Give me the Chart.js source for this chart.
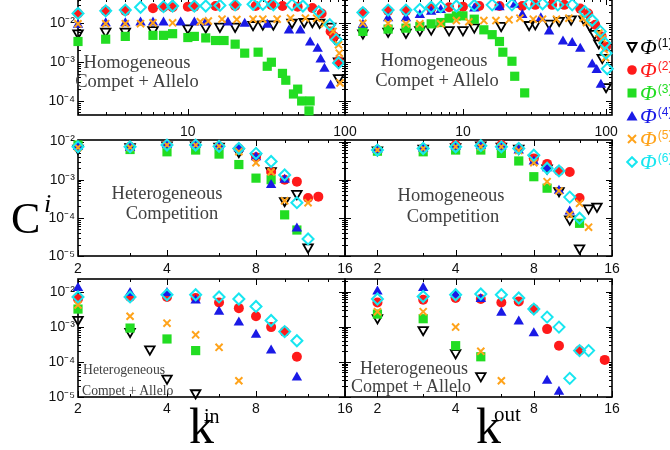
<!DOCTYPE html>
<html>
<head>
<meta charset="utf-8">
<script src="https://cdn.jsdelivr.net/npm/chart.js@4.4.0/dist/chart.umd.min.js"></script>
<style>
  body { margin: 0; width: 670px; height: 450px; background: #fff; position: relative; overflow: hidden; }
  canvas { position: absolute; }
  .note { position: absolute; transform: translate(-50%, -50%); white-space: nowrap; line-height: 1;
          font-family: "Liberation Serif", "DejaVu Serif", serif; color: #404040; font-size: 18.5px; }
  .note.small { transform: translate(0, -50%); font-size: 13.7px; }
  .title { position: absolute; line-height: 1; font-family: "Liberation Serif", serif; color: #000; white-space: nowrap; }
  .leg { position: absolute; left: 626px; height: 20px; display: flex; align-items: center; white-space: nowrap;
         font-family: "Liberation Serif", serif; }
  .leg i { font-size: 22px; margin-left: 2px; }
  .leg sup { font-family: "Liberation Sans", sans-serif; font-size: 12px; position: relative; top: -4px; margin-left: 1px; }
</style>
</head>
<body>
<canvas id="homAlleloInCv" width="343" height="146" style="left:18px;top:-9px"></canvas>
<canvas id="homAlleloOutCv" width="293" height="146" style="left:335px;top:-9px"></canvas>
<canvas id="hetCompInCv" width="343" height="146" style="left:18px;top:132px"></canvas>
<canvas id="homCompOutCv" width="293" height="146" style="left:335px;top:132px"></canvas>
<canvas id="hetAlleloInCv" width="343" height="148" style="left:18px;top:271px"></canvas>
<canvas id="hetAlleloOutCv" width="293" height="148" style="left:335px;top:271px"></canvas>

<div class="note" style="left:137px;top:62px">Homogeneous</div>
<div class="note" style="left:137px;top:81px">Compet + Allelo</div>
<div class="note" style="left:434px;top:60px">Homogeneous</div>
<div class="note" style="left:437px;top:80px">Compet + Allelo</div>
<div class="note" style="left:167px;top:193px">Heterogeneous</div>
<div class="note" style="left:172px;top:213px">Competition</div>
<div class="note" style="left:451px;top:195px">Homogeneous</div>
<div class="note" style="left:453px;top:216px">Competition</div>
<div class="note small" style="left:83px;top:370px">Heterogeneous</div>
<div class="note small" style="left:82px;top:391px">Compet + Allelo</div>
<div class="note" style="left:414px;top:368px;font-size:18px">Heterogeneous</div>
<div class="note" style="left:411px;top:386px;font-size:18px">Compet + Allelo</div>

<div class="title" style="left:11px;top:197px;font-size:44px">C</div>
<div class="title" style="left:44px;top:191px;font-size:26px;font-style:italic">i</div>
<div class="title" style="left:189px;top:401px;font-size:50px">k</div>
<div class="title" style="left:204px;top:406px;font-size:20px">in</div>
<div class="title" style="left:476px;top:401px;font-size:50px">k</div>
<div class="title" style="left:494px;top:404px;font-size:21px">out</div>

<div id="legend"></div>

<script>
// C_i versus k, one list of [k, C] pairs per family Φ(1)..Φ(6)
const homAlleloIn = [
  [[2,5.6e-3],[3,6.2e-3],[4,6.2e-3],[6,6.8e-3],[10,7.5e-3],[13,8.0e-3],[16,8.3e-3],[20,8.3e-3],[26,9.2e-3],[30,9.5e-3],[35,9.5e-3],[46,1.05e-2],[55,1.1e-2],[62,1.1e-2],[69,1.05e-2],[81,8.3e-3],[86,4.2e-3],[91,1.05e-3],[91,3.9e-4]],
  [[2,0.018],[3,0.021],[4,0.021],[6,0.0245],[7,0.026],[8,0.026],[10,0.027],[11,0.027],[15,0.028],[20,0.028],[27,0.028],[34,0.030],[40,0.028],[50,0.027],[62,0.025],[71,0.018],[81,6.2e-3],[85,4.6e-3],[91,1.05e-3]],
  [[2,3.4e-3],[3,3.9e-3],[4,4.6e-3],[6,4.9e-3],[7,4.9e-3],[8,5.4e-3],[10,4.3e-3],[11,4.6e-3],[13,4.2e-3],[15,3.6e-3],[17,3.6e-3],[20,2.9e-3],[23,1.7e-3],[28,1.8e-3],[32,7.8e-4],[34,9.9e-4],[40,5.1e-4],[42,3.4e-4],[47,1.5e-4],[50,2.0e-4],[53,9.9e-5],[60,9.9e-5],[59,5.5e-5]],
  [[2,9.2e-3],[3,0.010],[4,0.010],[5,0.0105],[6,0.0105],[7,0.0105],[9,0.0105],[11,0.0105],[13,0.0105],[18,0.0105],[23,0.0098],[32,0.0092],[44,6.5e-3],[52,6.5e-3],[60,3.2e-3],[67,2.2e-3],[70,1.16e-3],[74,6.7e-4],[81,2.5e-4]],
  [[2,9.7e-3],[3,9.8e-3],[4,9.8e-3],[5,9.8e-3],[6,0.0103],[8,0.0103],[12,0.011],[13.5,0.0115],[16.5,0.0128],[20.5,0.0125],[26,0.0128],[30,0.0128],[37,0.0128],[45,0.0136],[56,0.0136],[66,0.0136],[74,9.7e-3],[84,6.2e-3],[91,2.8e-3],[92,1.7e-3],[93,2.9e-4]],
  [[2,0.018],[3,0.021],[4,0.022],[5,0.026],[7,0.027],[8,0.028],[11,0.028],[13,0.028],[16,0.029],[20,0.030],[26,0.031],[30,0.031],[35,0.030],[46,0.030],[54,0.028],[68,0.020],[80,9.2e-3],[88,3.8e-3],[91,9.5e-4]]
];
const homAlleloOut = [
  [[2,5.6e-3],[3,6.2e-3],[4,5.8e-3],[5,6.8e-3],[6,7.1e-3],[8,6.8e-3],[10,6.8e-3],[12,8.0e-3],[18.5,8.7e-3],[29,9.2e-3],[32,9.7e-3],[40,0.010],[47,0.0118],[57,0.0128],[70,0.0128],[77,8.7e-3],[83,5.4e-3],[89,3.1e-3],[94,1.3e-3],[100,2.3e-4]],
  [[2,0.019],[3,0.021],[4,0.021],[6,0.024],[8,0.026],[10,0.027],[13,0.028],[18,0.028],[26,0.028],[32,0.030],[42,0.030],[51,0.030],[66,0.024],[75,0.018],[84,9.2e-3],[93,4.6e-3],[100,2.5e-3]],
  [[2,6.2e-3],[3,7.1e-3],[4,7.5e-3],[5,8.3e-3],[6,9.7e-3],[7,0.0105],[8,0.0136],[9,0.0156],[10,0.0156],[12,0.0128],[14,6.8e-3],[16,5.1e-3],[18,3.4e-3],[19,1.8e-3],[22,1.05e-3],[23,4.3e-4],[27,1.6e-4]],
  [[2,9.2e-3],[3,0.0136],[4,0.0136],[5,0.0165],[6,0.020],[7,0.022],[12,0.024],[18,0.026],[23,0.030],[26,0.0165],[35,0.0136],[40,6.2e-3],[50,3.4e-3],[58,3.1e-3],[66,2.2e-3],[80,8.6e-4],[86,6.2e-4],[92,2.6e-4]],
  [[2,0.010],[3,0.010],[4,9.7e-3],[5,9.7e-3],[7,9.7e-3],[9,0.0118],[11,0.011],[14,0.0118],[17,0.0118],[21,0.0123],[25,0.0136],[31,0.0128],[36,0.0128],[45,0.0128],[55,0.0136],[69,0.0136],[73,0.0105],[89,5.6e-3],[94,4.0e-3],[97,2.1e-3],[99,1.3e-3]],
  [[2,0.019],[3,0.022],[4,0.022],[5,0.023],[6,0.026],[7,0.027],[9,0.028],[12,0.029],[16,0.030],[22,0.030],[29,0.032],[36,0.032],[46,0.030],[58,0.030],[71,0.020],[80,0.012],[91,6.2e-3],[98,3.1e-3],[100,1.7e-3],[102,6.7e-4]]
];
const hetCompIn = [
  [[2,6.6e-3],[3,7.3e-3],[4,8.1e-3],[5,8.1e-3],[6,7.5e-3],[7,5.4e-3],[8,3.9e-3],[9,1.7e-3],[10,2.8e-4],[11,4.3e-4],[12,1.7e-5]],
  [[2,7.3e-3],[3,7.3e-3],[4,8.3e-3],[5,8.3e-3],[6,7.5e-3],[7,6.6e-3],[8,3.9e-3],[9,1.6e-3],[10,1.0e-3],[11,8.9e-4],[12,3.3e-4],[13,3.6e-4]],
  [[2,8.1e-3],[3,6.2e-3],[4,5.4e-3],[5,6.0e-3],[6,4.7e-3],[7,2.5e-3],[8,1.1e-3],[9,1.0e-3],[10,1.2e-4],[11,4.8e-5]],
  [[2,7.3e-3],[3,6.8e-3],[4,8.1e-3],[5,8.1e-3],[6,7.5e-3],[7,6.6e-3],[8,3.9e-3],[9,7.3e-4],[10,1.0e-3],[11,5.3e-5]],
  [[2,7.0e-3],[3,7.0e-3],[4,8.1e-3],[5,8.1e-3],[6,7.5e-3],[7,5.4e-3],[8,2.8e-3],[9,1.6e-3],[10,2.8e-4],[12,2.5e-4]],
  [[2,7.3e-3],[3,7.3e-3],[4,8.1e-3],[5,8.1e-3],[6,7.5e-3],[7,6.6e-3],[8,4.9e-3],[9,3.0e-3],[10,1.33e-3],[11,2.5e-4],[12,2.8e-5]]
];
const homCompOut = [
  [[2,6.0e-3],[3,6.6e-3],[4,7.3e-3],[5,8.1e-3],[6,7.5e-3],[7,6.6e-3],[8,3.6e-3],[9,2.0e-3],[10,5.1e-4],[11,9.2e-5],[12,1.6e-5],[13,1.8e-4],[14,2.0e-4]],
  [[2,6.0e-3],[3,6.6e-3],[4,8.1e-3],[5,8.1e-3],[6,8.1e-3],[7,6.6e-3],[8,3.6e-3],[9,2.6e-3],[10,1.7e-3],[11,1.6e-3],[12,3.3e-4]],
  [[2,5.6e-3],[3,5.4e-3],[4,6.0e-3],[5,6.0e-3],[6,4.9e-3],[7,3.1e-3],[8,1.2e-3],[9,6.0e-4],[12,7.2e-5]],
  [[2,6.0e-3],[3,6.6e-3],[4,7.3e-3],[5,7.8e-3],[6,7.3e-3],[7,5.8e-3],[8,3.0e-3],[9,2.0e-3],[10,5.1e-4],[11,1.46e-4]],
  [[2,6.0e-3],[3,6.6e-3],[4,7.3e-3],[5,7.3e-3],[6,7.3e-3],[7,5.8e-3],[8,2.8e-3],[9,8.9e-4],[10,5.1e-4],[11,1.2e-4],[12,2.4e-4],[13,5.7e-5]],
  [[2,6.0e-3],[3,6.6e-3],[4,7.3e-3],[5,7.8e-3],[6,7.3e-3],[7,6.6e-3],[8,4.4e-3],[9,2.0e-3],[10,1.7e-3],[11,3.5e-4],[12,9.8e-5]]
];
const hetAlleloIn = [
  [[2,1.6e-3],[3,7.3e-4],[3.5,2.3e-4],[4,3.4e-5],[5,1.3e-5]],
  [[2,6.2e-3],[3,7.1e-3],[4,7.1e-3],[5,6.6e-3],[6,4.9e-3],[7,3.4e-3],[8,2.0e-3],[9,9.8e-4],[10,7.3e-4],[11,1.4e-4]],
  [[2,3.2e-3],[3,9.2e-4],[4,4.5e-4],[5,2.1e-4]],
  [[2,0.0128],[3,9.2e-3],[4,9.2e-3],[5,5.6e-3],[6,2.7e-3],[7,1.33e-3],[8,5.9e-4],[9,2.1e-4],[11,3.6e-5]],
  [[2,4.2e-3],[3,2.0e-3],[4,1.27e-3],[5,5.9e-4],[6,2.6e-4],[7,2.9e-5]],
  [[2,7.1e-3],[3,7.1e-3],[4,8.2e-3],[5,8.2e-3],[6,7.1e-3],[7,6.2e-3],[8,3.8e-3],[9,1.51e-3],[10,7.3e-4],[11,4.0e-4]]
];
const hetAlleloOut = [
  [[2,1.8e-3],[3,8.2e-4],[4,1.8e-4],[5,4.0e-5]],
  [[2,4.9e-3],[3,5.9e-3],[4,6.6e-3],[5,6.2e-3],[6,4.9e-3],[7,5.3e-3],[8,3.2e-3],[9,8.6e-4],[10,2.9e-4],[12,2.1e-4],[15,1.14e-4]],
  [[2,2.3e-3],[3,1.7e-3],[4,2.9e-4],[5,1.4e-4]],
  [[2,0.0102],[3,0.0128],[4,8.2e-3],[5,6.2e-3],[6,2.5e-3],[7,1.42e-3],[8,6.6e-4],[9,2.9e-5],[10,1.4e-5]],
  [[2,2.7e-3],[3,2.7e-3],[4,9.8e-4],[5,2.0e-4],[6,2.9e-5]],
  [[2,6.2e-3],[3,7.3e-3],[4,8.2e-3],[5,8.6e-3],[6,8.2e-3],[7,6.6e-3],[8,3.2e-3],[9,1.89e-3],[10,9.8e-4],[11,3.4e-5],[12,2.1e-4],[13,2.1e-4]]
];

// tick labels
const degreeTicksWide = [10, 100];
const degreeTicksNarrow = [2, 4, 8, 16];
const degreeMinorNarrow = [3, 6, 10, 12, 14];
const legendNames = ['(1)', '(2)', '(3)', '(4)', '(5)', '(6)'];

const families = [
  { color: '#000000', style: 'triangle', rot: 180, r: 5.5, open: true, bw: 1.8 },
  { color: '#ff1a1a', style: 'circle', rot: 0, r: 5, open: false },
  { color: '#22dd22', style: 'rect', rot: 0, r: 6.5, open: false },
  { color: '#1a1ae6', style: 'triangle', rot: 0, r: 6, open: false },
  { color: '#ffa31a', style: 'crossRot', rot: 0, r: 5, open: true, bw: 2 },
  { color: '#17e6f0', style: 'rectRot', rot: 0, r: 5.5, open: true, bw: 2 }
];

const SUP = { '-': '⁻', '0': '⁰', '1': '¹', '2': '²', '3': '³', '4': '⁴', '5': '⁵', '6': '⁶', '7': '⁷', '8': '⁸', '9': '⁹' };
const isDecade = v => Math.abs(Math.log10(v) - Math.round(Math.log10(v))) < 1e-9;

function logTicks(min, max) {
  const out = [];
  for (let e = Math.floor(Math.log10(min)); e <= Math.ceil(Math.log10(max)); e++) {
    for (let m = 1; m < 10; m++) {
      const v = +(m * Math.pow(10, e)).toPrecision(6);
      if (v >= min && v <= max) out.push({ value: v });
    }
  }
  return out;
}

// frame box with inward ticks on all four sides
const frameTicks = {
  id: 'frameTicks',
  beforeDatasetsDraw(chart, args, opts) {
    const { ctx, chartArea: a, scales: { x, y } } = chart;
    ctx.save();
    ctx.strokeStyle = '#000';
    ctx.lineWidth = 1;
    ctx.beginPath();
    x.ticks.forEach(t => {
      const px = Math.round(x.getPixelForValue(t.value)) + 0.5;
      const len = opts.xMajor.includes(t.value) ? 6 : 3;
      ctx.moveTo(px, a.bottom); ctx.lineTo(px, a.bottom - len);
      ctx.moveTo(px, a.top); ctx.lineTo(px, a.top + len);
    });
    y.ticks.forEach(t => {
      const py = Math.round(y.getPixelForValue(t.value)) + 0.5;
      const len = isDecade(t.value) ? 6 : 3;
      ctx.moveTo(a.left, py); ctx.lineTo(a.left + len, py);
      ctx.moveTo(a.right, py); ctx.lineTo(a.right - len, py);
    });
    ctx.stroke();
    ctx.lineWidth = 1.6;
    ctx.strokeRect(a.left, a.top, a.right - a.left, a.bottom - a.top);
    ctx.restore();
  }
};

const tickFont = { family: '"Liberation Sans", Arial, sans-serif', size: 14 };

function makePanel(id, series, p) {
  const xTickList = p.narrow
    ? degreeTicksNarrow.concat(degreeMinorNarrow).map(v => ({ value: v }))
    : logTicks(p.xMin, p.xMax);
  const xMajor = p.narrow ? degreeTicksNarrow : degreeTicksWide;
  return new Chart(document.getElementById(id), {
    type: 'scatter',
    data: {
      datasets: series.map((pts, i) => {
        const f = families[i];
        return {
          data: pts.map(([k, c]) => ({ x: k, y: c })),
          pointStyle: f.style,
          pointRotation: f.rot,
          pointRadius: f.r,
          pointBackgroundColor: f.open ? 'rgba(0,0,0,0)' : f.color,
          pointBorderColor: f.color,
          pointBorderWidth: f.open ? f.bw : 0,
          showLine: false,
          clip: false,
          order: 6 - i
        };
      })
    },
    options: {
      responsive: false,
      animation: false,
      events: [],
      layout: { padding: { top: 8, right: 16, left: 0, bottom: 0 } },
      plugins: { legend: { display: false }, tooltip: { enabled: false }, frameTicks: { xMajor } },
      scales: {
        x: {
          type: 'logarithmic', position: 'bottom', min: p.xMin, max: p.xMax, bounds: 'data',
          grid: { display: false, drawTicks: false }, border: { display: false },
          afterBuildTicks: s => { s.ticks = xTickList.map(t => ({ value: t.value })); },
          afterFit: s => { s.height = 22; s.paddingLeft = 0; s.paddingRight = 0; },
          ticks: {
            autoSkip: false, maxRotation: 0, padding: p.xPad, font: tickFont, color: '#111',
            callback: v => xMajor.includes(v) ? String(v) : ''
          }
        },
        y: {
          type: 'logarithmic', position: 'left', min: p.yMin, max: p.yMax, bounds: 'data',
          grid: { display: false, drawTicks: false }, border: { display: false },
          afterBuildTicks: s => { s.ticks = logTicks(p.yMin, p.yMax); },
          afterFit: s => { s.width = p.left ? 60 : 10; s.paddingTop = 0; s.paddingBottom = 0; },
          ticks: {
            display: p.left, autoSkip: false, padding: 3, font: tickFont, color: '#111',
            callback: v => isDecade(v) ? '10' + String(Math.round(Math.log10(v))).split('').map(ch => SUP[ch]).join('') : ''
          }
        }
      }
    },
    plugins: [frameTicks]
  });
}

const rowTop = { yMin: 4.3e-5, yMax: 0.0425, xPad: 9 };
const rowMid = { yMin: 1e-5, yMax: 0.011, xPad: 5, narrow: true };
const rowLow = { yMin: 1e-5, yMax: 0.023, xPad: 4, narrow: true };

makePanel('homAlleloInCv', homAlleloIn, { ...rowTop, xMin: 2, xMax: 100, left: true });
makePanel('homAlleloOutCv', homAlleloOut, { ...rowTop, xMin: 1.5, xMax: 110, left: false });
makePanel('hetCompInCv', hetCompIn, { ...rowMid, xMin: 2, xMax: 16, left: true });
makePanel('homCompOutCv', homCompOut, { ...rowMid, xMin: 1.5, xMax: 16, left: false });
makePanel('hetAlleloInCv', hetAlleloIn, { ...rowLow, xMin: 2, xMax: 16, left: true });
makePanel('hetAlleloOutCv', hetAlleloOut, { ...rowLow, xMin: 1.5, xMax: 16, left: false });

// legend: marker, italic Φ, superscript index
function markerSvg(f) {
  const c = f.color;
  const shapes = [
    `<polygon points="1.5,2 10.5,2 6,10.5" fill="none" stroke="${c}" stroke-width="2"/>`,
    `<circle cx="6" cy="6" r="4.8" fill="${c}"/>`,
    `<rect x="1.5" y="1.5" width="9" height="9" fill="${c}"/>`,
    `<polygon points="6,1 11.5,10.5 0.5,10.5" fill="${c}"/>`,
    `<path d="M2,2L10,10M10,2L2,10" stroke="${c}" stroke-width="2"/>`,
    `<polygon points="6,1.2 10.8,6 6,10.8 1.2,6" fill="none" stroke="${c}" stroke-width="2"/>`
  ];
  return `<svg width="12" height="12" viewBox="0 0 12 12">${shapes[families.indexOf(f)]}</svg>`;
}
const legend = document.getElementById('legend');
families.forEach((f, i) => {
  const row = document.createElement('div');
  row.className = 'leg';
  row.style.top = (37 + i * 23) + 'px';
  row.style.color = f.color;
  row.innerHTML = markerSvg(f) + '<i>Φ</i><sup>' + legendNames[i] + '</sup>';
  legend.appendChild(row);
});
</script>
</body>
</html>
